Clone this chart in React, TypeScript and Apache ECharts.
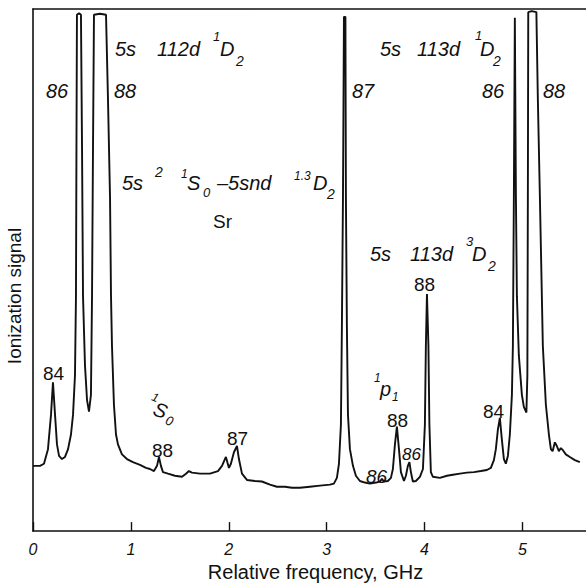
import { useEffect, useRef } from "react";
import * as echarts from "echarts";

// Relative frequency (GHz) of each sample along the recorded trace
const freqGHz = [
  0.0, 0.072, 0.112, 0.153, 0.184, 0.204, 0.225, 0.245, 0.266, 0.296,
  0.327, 0.358, 0.388, 0.409, 0.429, 0.439, 0.444, 0.449, 0.47, 0.49,
  0.501, 0.511, 0.531, 0.552, 0.572, 0.592, 0.603, 0.613, 0.623, 0.684,
  0.746, 0.766, 0.787, 0.797, 0.807, 0.827, 0.848, 0.868, 0.909, 0.96,
  1.021, 1.093, 1.154, 1.195, 1.236, 1.267, 1.287, 1.307, 1.328, 1.379,
  1.45, 1.522, 1.563, 1.593, 1.624, 1.706, 1.808, 1.89, 1.931, 1.971,
  2.002, 2.022, 2.053, 2.084, 2.104, 2.135, 2.186, 2.268, 2.339, 2.421,
  2.492, 2.574, 2.646, 2.727, 2.829, 2.932, 3.034, 3.074, 3.105, 3.126,
  3.146, 3.156, 3.167, 3.177, 3.192, 3.197, 3.207, 3.218, 3.238, 3.269,
  3.299, 3.34, 3.391, 3.442, 3.504, 3.545, 3.565, 3.585, 3.626, 3.657,
  3.677, 3.698, 3.718, 3.739, 3.759, 3.79, 3.81, 3.83, 3.846, 3.861,
  3.881, 3.912, 3.953, 3.984, 4.004, 4.014, 4.025, 4.04, 4.05, 4.065,
  4.086, 4.157, 4.229, 4.29, 4.362, 4.433, 4.505, 4.576, 4.637, 4.678,
  4.709, 4.729, 4.75, 4.77, 4.79, 4.811, 4.831, 4.852, 4.872, 4.893,
  4.903, 4.913, 4.923, 4.934, 4.944, 4.964, 4.995, 5.015, 5.041, 5.051,
  5.056, 5.06, 5.096, 5.143, 5.158, 5.179, 5.209, 5.24, 5.271, 5.291,
  5.309, 5.332, 5.352, 5.373, 5.393, 5.414, 5.444, 5.485, 5.536, 5.587,
];

// Ionization signal (arb. units, 100 = full scale)
const signal = [
  12.5, 12.5, 12.9, 15.7, 22.3, 28.5, 22.3, 16.6, 14.4, 13.8,
  14.2, 15.7, 18.5, 22.3, 29.9, 45.0, 73.3, 98.9, 99.2, 98.9,
  73.3, 45.0, 31.8, 25.1, 22.9, 26.1, 45.0, 73.3, 98.9, 99.1,
  98.9, 82.8, 63.9, 45.0, 35.5, 24.2, 18.5, 16.6, 14.7, 13.8,
  13.2, 12.7, 12.1, 11.9, 11.5, 12.5, 14.2, 12.5, 11.3, 11.0,
  10.6, 10.4, 11.0, 11.5, 11.2, 11.0, 11.0, 11.5, 12.5, 14.2,
  12.1, 12.9, 15.1, 16.3, 13.8, 11.0, 9.8, 9.6, 9.5, 8.9,
  8.5, 8.5, 8.3, 8.3, 8.5, 8.7, 8.9, 9.1, 10.2, 12.9,
  20.4, 39.3, 63.9, 98.5, 98.5, 63.9, 39.3, 22.3, 15.7, 12.5,
  10.6, 9.6, 9.3, 9.1, 9.3, 9.5, 10.0, 9.5, 9.6, 10.2,
  11.9, 16.6, 20.0, 15.7, 11.3, 9.6, 10.6, 12.5, 13.2, 11.3,
  9.5, 9.6, 10.4, 11.9, 20.4, 35.5, 45.4, 35.5, 20.4, 11.3,
  10.4, 10.2, 10.6, 10.8, 11.0, 11.2, 11.3, 11.5, 11.7, 12.1,
  13.6, 15.7, 19.5, 21.7, 17.6, 13.8, 12.9, 14.4, 18.5, 26.1,
  35.5, 63.9, 98.3, 63.9, 45.0, 33.6, 26.1, 23.8, 22.7, 29.9,
  63.9, 99.4, 99.6, 99.4, 82.8, 63.9, 35.5, 24.2, 18.5, 15.7,
  15.3, 17.0, 16.3, 15.3, 15.9, 15.5, 14.7, 14.2, 13.6, 13.2,
];

const tickValues = [0, 1, 2, 3, 4, 5];

const FONT = '"Liberation Sans", Arial, sans-serif';
const INK = "#111";

function txt(
  x: number,
  y: number,
  text: string,
  size = 20,
  italic = true,
  extra: Record<string, unknown> = {}
) {
  return {
    type: "text",
    x,
    y,
    silent: true,
    style: {
      text,
      fill: INK,
      font: `${italic ? "italic " : ""}${size}px ${FONT}`,
      align: "left",
      verticalAlign: "middle",
    },
    ...extra,
  };
}

export default function App() {
  const ref = useRef<HTMLDivElement>(null);

  useEffect(() => {
    const chart = echarts.init(ref.current!, null, { renderer: "svg" });

    const annotations = [
      // 5s 112d 1D2
      txt(115, 49, "5s"),
      txt(157, 49, "112d"),
      txt(213, 36, "1", 13),
      txt(220, 49, "D"),
      txt(236, 61, "2", 14),
      txt(46, 91, "86"),
      txt(114, 91, "88"),
      // 5s2 1S0 - 5snd 1,3D2
      txt(122, 183, "5s"),
      txt(155, 172, "2", 14),
      txt(181, 174, "1", 12),
      txt(187, 183, "S"),
      txt(203, 192, "0", 13),
      txt(217, 183, "–5snd"),
      txt(294, 176, "1.3", 12),
      txt(313, 183, "D"),
      txt(327, 194, "2", 14),
      txt(213, 221, "Sr", 19, false),
      // 5s 113d 1D2
      txt(352, 91, "87"),
      txt(380, 49, "5s"),
      txt(417, 49, "113d"),
      txt(475, 35, "1", 13),
      txt(480, 49, "D"),
      txt(493, 61, "2", 14),
      txt(482, 91, "86"),
      txt(543, 91, "88"),
      // 5s 113d 3D2
      txt(370, 254, "5s"),
      txt(410, 254, "113d"),
      txt(466, 241, "3", 13),
      txt(472, 254, "D"),
      txt(488, 266, "2", 14),
      txt(414, 284, "88", 19, false),
      // small peaks
      txt(43, 373, "84", 19, false),
      {
        type: "group",
        x: 150,
        y: 402,
        rotation: -0.35,
        children: [
          txt(0, -6, "1", 12),
          txt(6, 4, "S"),
          txt(21, 11, "0", 13),
        ],
      },
      txt(152, 450, "88", 19, false),
      txt(227, 438, "87", 19, false),
      txt(374, 378, "1", 12),
      txt(380, 389, "p"),
      txt(392, 397, "1", 12),
      txt(387, 420, "88", 19, false),
      txt(402, 454, "86", 17),
      txt(366, 476, "86", 19),
      txt(483, 411, "84", 19, false),
      // vertical axis title
      {
        type: "text",
        x: 14,
        y: 296,
        rotation: Math.PI / 2,
        silent: true,
        style: {
          text: "Ionization signal",
          fill: INK,
          font: `19px ${FONT}`,
          align: "center",
          verticalAlign: "middle",
        },
      },
    ];

    chart.setOption({
      animation: false,
      backgroundColor: "#fff",
      grid: { left: 33, right: 0, top: 9, bottom: 49 },
      xAxis: [
        {
          type: "value",
          min: 0,
          max: 5.65,
          interval: 1,
          name: "Relative frequency, GHz",
          nameLocation: "middle",
          nameGap: 26,
          nameTextStyle: { fontFamily: FONT, fontSize: 20, color: INK, padding: [0, 0, 0, 12] },
          axisLine: { show: true, lineStyle: { color: INK, width: 1.6 } },
          axisTick: {
            show: true,
            inside: true,
            length: 9,
            customValues: tickValues,
            lineStyle: { color: INK, width: 1.4 },
          },
          axisLabel: {
            customValues: tickValues,
            fontFamily: FONT,
            fontStyle: "italic",
            fontSize: 16,
            color: INK,
            margin: 10,
          },
          splitLine: { show: false },
        },
        {
          type: "value",
          position: "top",
          min: 0,
          max: 5.65,
          axisLine: { show: true, lineStyle: { color: INK, width: 1.6 } },
          axisTick: { show: false },
          axisLabel: { show: false },
          splitLine: { show: false },
        },
      ],
      yAxis: {
        type: "value",
        min: 0,
        max: 100,
        axisLine: { show: true, lineStyle: { color: INK, width: 1.6 } },
        axisTick: { show: false },
        axisLabel: { show: false },
        splitLine: { show: false },
      },
      series: [
        {
          type: "line",
          data: freqGHz.map((f, i) => [f, signal[i]]),
          showSymbol: false,
          clip: true,
          lineStyle: { color: INK, width: 1.9 },
        },
      ],
      graphic: annotations,
    });

    return () => chart.dispose();
  }, []);

  return (
    <div
      ref={ref}
      style={{ position: "absolute", left: 0, top: 0, width: 586, height: 587 }}
    />
  );
}
